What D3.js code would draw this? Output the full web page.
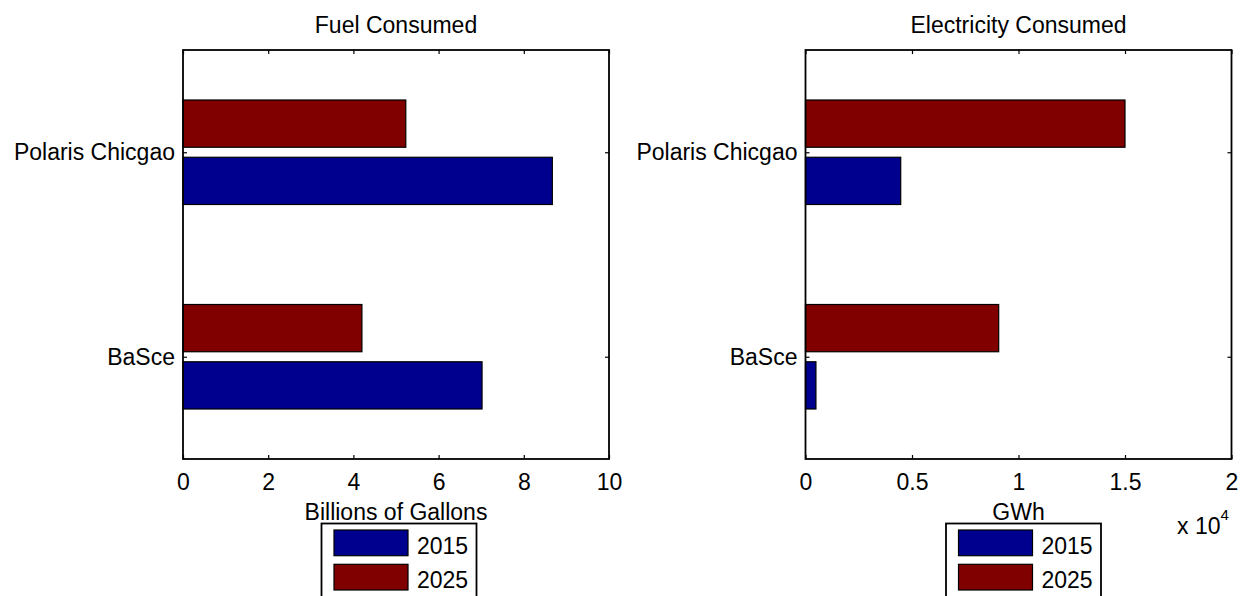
<!DOCTYPE html>
<html>
<head>
<meta charset="utf-8">
<script src="https://cdn.jsdelivr.net/npm/d3@7"></script>
<style>
  html, body { margin: 0; padding: 0; background: #fff; }
  svg { display: block; font-family: "Liberation Sans", Arial, sans-serif; }
</style>
</head>
<body>
<svg id="chart" width="1243" height="596"></svg>
<script>
// Scenario categories (bottom to top) and the two study years
const categories = ["BaSce", "Polaris Chicgao"];
const years = ["2015", "2025"];

// Fuel consumed, billions of gallons
const fuel2015 = [7.02, 8.67];
const fuel2025 = [4.20, 5.23];

// Electricity consumed, GWh
const elec2015 = [490, 4470];
const elec2025 = [9070, 15000];

// Axis ticks
const fuelTicks = [0, 2, 4, 6, 8, 10];
const elecTicks = [0, 5000, 10000, 15000, 20000];

const yearColors = ["#00008f", "#800000"];
const FONT = 23;

const svg = d3.select("#chart");

function panel(opt) {
  const { left, right, top, bottom } = opt;
  const g = svg.append("g");

  const x = d3.scaleLinear().domain(opt.xDomain).range([left, right]);
  // categories sit at 1, 2 on a [0.5, 2.5] value axis
  const y = d3.scaleLinear().domain([0.5, 2.5]).range([bottom, top]);
  const catPos = categories.map((c, i) => i + 1);

  const barH = 0.231;      // bar thickness in category units
  const off = 0.14;        // offset of each year's bar from the category centre
  const series = [opt.s2015, opt.s2025];
  const offsets = [-off, off]; // 2015 below, 2025 above

  series.forEach((vals, si) => {
    g.append("g").selectAll("rect")
      .data(vals)
      .join("rect")
      .attr("x", x(0))
      .attr("y", (d, i) => y(catPos[i] + offsets[si] + barH / 2))
      .attr("width", d => x(d) - x(0))
      .attr("height", y(0) - y(barH))
      .attr("fill", yearColors[si])
      .attr("stroke", "#000")
      .attr("stroke-width", 1.2);
  });

  // bottom axis with inward ticks
  const bx = g.append("g").attr("transform", `translate(0,${bottom})`)
    .call(d3.axisBottom(x).tickValues(opt.ticks).tickSize(-4).tickPadding(15)
      .tickFormat(opt.tickFormat));
  // top mirror ticks
  const tx = g.append("g").attr("transform", `translate(0,${top})`)
    .call(d3.axisTop(x).tickValues(opt.ticks).tickSize(-4).tickFormat(""));
  // left category axis
  const ly = g.append("g").attr("transform", `translate(${left},0)`)
    .call(d3.axisLeft(y).tickValues(catPos).tickSize(-4).tickPadding(8)
      .tickFormat((d, i) => categories[i]));
  // right mirror ticks
  const ry = g.append("g").attr("transform", `translate(${right},0)`)
    .call(d3.axisRight(y).tickValues(catPos).tickSize(-4).tickFormat(""));

  [bx, tx, ly, ry].forEach(a => {
    a.select(".domain").remove();
    a.selectAll("line").attr("stroke", "#000").attr("stroke-width", 1.2);
    a.selectAll("text").attr("font-size", FONT).attr("fill", "#000")
      .attr("font-family", "Liberation Sans, Arial, sans-serif");
  });

  // axes box
  g.append("rect")
    .attr("x", left).attr("y", top)
    .attr("width", right - left).attr("height", bottom - top)
    .attr("fill", "none").attr("stroke", "#000").attr("stroke-width", 1.8);

  const cx = (left + right) / 2;
  g.append("text").attr("x", cx).attr("y", 33).attr("text-anchor", "middle")
    .attr("font-size", FONT).text(opt.title);
  g.append("text").attr("x", cx).attr("y", 520).attr("text-anchor", "middle")
    .attr("font-size", FONT).text(opt.xLabel);

  // legend
  const lg = g.append("g");
  const lx = opt.legendX;
  lg.append("rect").attr("x", lx).attr("y", 523.5).attr("width", 155).attr("height", 90)
    .attr("fill", "#fff").attr("stroke", "#000").attr("stroke-width", 1.8);
  years.forEach((yr, i) => {
    lg.append("rect").attr("x", lx + 12.5).attr("y", 530 + i * 34.3)
      .attr("width", 74).attr("height", 25.7)
      .attr("fill", yearColors[i]).attr("stroke", "#000").attr("stroke-width", 1.2);
    lg.append("text").attr("x", lx + 95.5).attr("y", 553.5 + i * 34.3)
      .attr("font-size", FONT).text(yr);
  });
  return g;
}

panel({
  left: 183, right: 609, top: 50, bottom: 459,
  xDomain: [0, 10], ticks: fuelTicks, tickFormat: d3.format("d"),
  s2015: fuel2015, s2025: fuel2025,
  title: "Fuel Consumed", xLabel: "Billions of Gallons", legendX: 321.5
});

const right = panel({
  left: 805.5, right: 1231.5, top: 50, bottom: 459,
  xDomain: [0, 20000], ticks: elecTicks, tickFormat: d => d3.format("~g")(d / 1e4),
  s2015: elec2015, s2025: elec2025,
  title: "Electricity Consumed", xLabel: "GWh", legendX: 946
});

// exponent note for the electricity axis
const ex = right.append("text").attr("x", 1177).attr("y", 534).attr("font-size", FONT);
ex.append("tspan").text("x 10");
ex.append("tspan").attr("dy", -14).attr("font-size", 15).text("4");
</script>
</body>
</html>
